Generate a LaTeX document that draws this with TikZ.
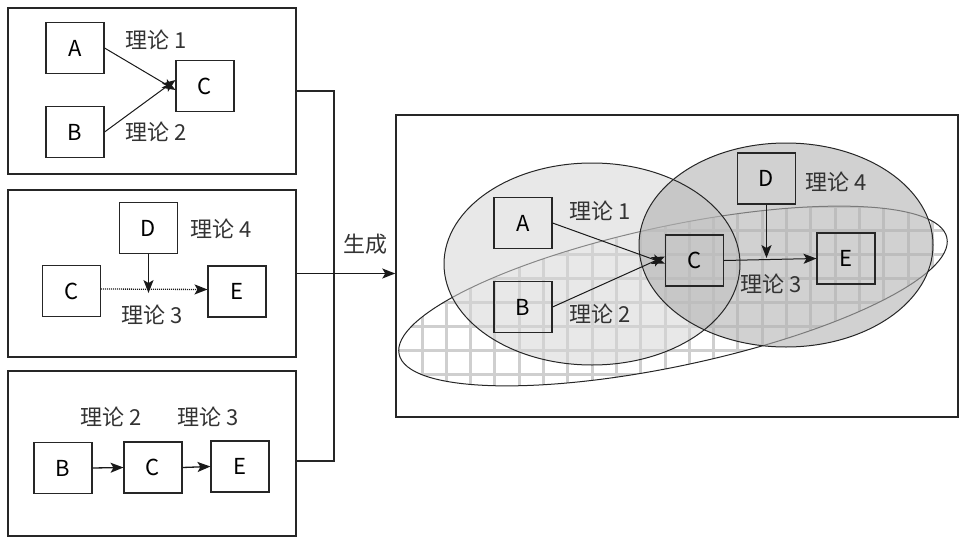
\documentclass[tikz,border=0pt]{standalone}
\usepackage{fontspec}
\setmainfont{Noto Sans CJK SC}
\usetikzlibrary{calc,shapes.geometric}
\tikzset{
  box/.style={draw=black!85,line width=1.1pt,minimum width=58pt,minimum height=51pt,inner sep=0pt},
  panel/.style={draw=black!85,line width=1.6pt,inner sep=0pt},
  lbl/.style={inner sep=0pt,text=black!80},
  arr/.style={line width=1pt,draw=black!90},
  conn/.style={line width=1.2pt,black!85}}
\newcommand{\myarrow}[3][]{%
  \draw[arr,#1,shorten >=7pt] (#2) -- (#3);
  \fill[black!90] let \p1=($(#3)-(#2)$), \n1={atan2(\y1,\x1)} in
    (#3) -- ($(#3)+(\n1+158.6:14pt)$) -- ($(#3)+(\n1+180:10pt)$) -- ($(#3)+(\n1+201.4:14pt)$) -- cycle;}
\begin{document}
\begin{tikzpicture}[x=1pt,y=-1pt,every node/.style={font=\fontsize{22}{24}\selectfont}]
\useasboundingbox (0,0) rectangle (967,543);
% panels
\node[panel,minimum width=288pt,minimum height=166pt] (p1) at (152,91) {};
\node[panel,minimum width=288pt,minimum height=167pt] (p2) at (152,273.5) {};
\node[panel,minimum width=288pt,minimum height=165pt] (p3) at (152,453.5) {};
% panel 1
\node[box] (a1) at (75,48) {A};
\node[box] (b1) at (75,132) {B};
\node[box] (c1) at (205,86) {C};
\coordinate (t1a) at ([yshift=-4pt]c1.west);
\coordinate (t1b) at ([yshift=6pt]c1.west);
\myarrow{a1.east}{t1a}
\myarrow{b1.east}{t1b}
\node[lbl] (l11) at (156,40) {理论 1};
\node[lbl] (l12) at (156,132) {理论 2};
% panel 2
\node[box] (d2) at (148.5,228) {D};
\node[box] (c2) at (71.5,291) {C};
\node[box] (e2) at (237,291.5) {E};
\coordinate (s2) at ([yshift=2pt]c2.east);
\coordinate (t2) at ([yshift=2pt]e2.west);
\myarrow[densely dotted,line width=1.3pt]{s2}{t2}
\coordinate (m2) at (148.5,293);
\myarrow{d2.south}{m2}
\node[lbl] (l24) at (221,229) {理论 4};
\node[lbl] (l23) at (152,315) {理论 3};
% panel 3
\node[box] (b3) at (63,468) {B};
\node[box] (c3) at (153,467.5) {C};
\node[box] (e3) at (240,466.5) {E};
\myarrow[line width=1.3pt]{b3.east}{c3.west}
\myarrow[line width=1.3pt]{c3.east}{e3.west}
\node[lbl] (l32) at (111,417) {理论 2};
\node[lbl] (l33) at (208,417) {理论 3};
% right panel
\node[panel,minimum width=562pt,minimum height=302pt] (rp) at (677,266) {};
% connectors
\coordinate (jt) at (334,91);
\coordinate (jb) at (334,461);
\draw[conn] (p1.east) -- (jt) -- (jb) -- (p3.east |- jb);
\coordinate (rpin) at (rp.west |- p2.east);
\myarrow[line width=1.4pt]{p2.east}{rpin}
\node[lbl] (gen) at (365,244) {生成};
% grid in tilted ellipse
\begin{scope}
  \clip[rotate around={12:(673,296)}] (673,296) ellipse [x radius=280, y radius=70];
  \foreach \i in {-2,...,22} \draw[line width=3pt,black!19] (397.7+24.3*\i,150) -- (397.7+24.3*\i,420);
  \foreach \j in {-2,...,10} \draw[line width=3pt,black!19] (390,206.5+24*\j) -- (960,206.5+24*\j);
\end{scope}
\draw[line width=1pt,black!85,rotate around={12:(673,296)}] (673,296) ellipse [x radius=280, y radius=70];
% ellipses
\fill[fill=black!16,fill opacity=0.55] (592,264) ellipse [x radius=148, y radius=101];
\fill[fill=black!30,fill opacity=0.6] (786,245) ellipse [x radius=147, y radius=102];
\draw[line width=1pt,black!85] (592,264) ellipse [x radius=148, y radius=101];
\draw[line width=1pt,black!85] (786,245) ellipse [x radius=147, y radius=102];
% right nodes
\node[box] (ra) at (523,223) {A};
\node[box] (rb) at (523,307) {B};
\node[box,line width=1.4pt] (rc) at (694.5,260.5) {C};
\node[box] (rd) at (766.5,178.5) {D};
\node[box] (re) at (846,258.5) {E};
\coordinate (tra) at ([yshift=-3pt]rc.west);
\coordinate (trb) at ([yshift=4pt]rc.west);
\myarrow{ra.east}{tra}
\myarrow{rb.east}{trb}
\myarrow{rc.east}{re.west}
\coordinate (rm) at (766.5,258);
\myarrow{rd.south}{rm}
\node[lbl] (r1) at (600,211) {理论 1};
\node[lbl] (r2) at (600,314) {理论 2};
\node[lbl] (r4) at (836,182) {理论 4};
\node[lbl] (r3) at (771,284) {理论 3};
\end{tikzpicture}
\end{document}
